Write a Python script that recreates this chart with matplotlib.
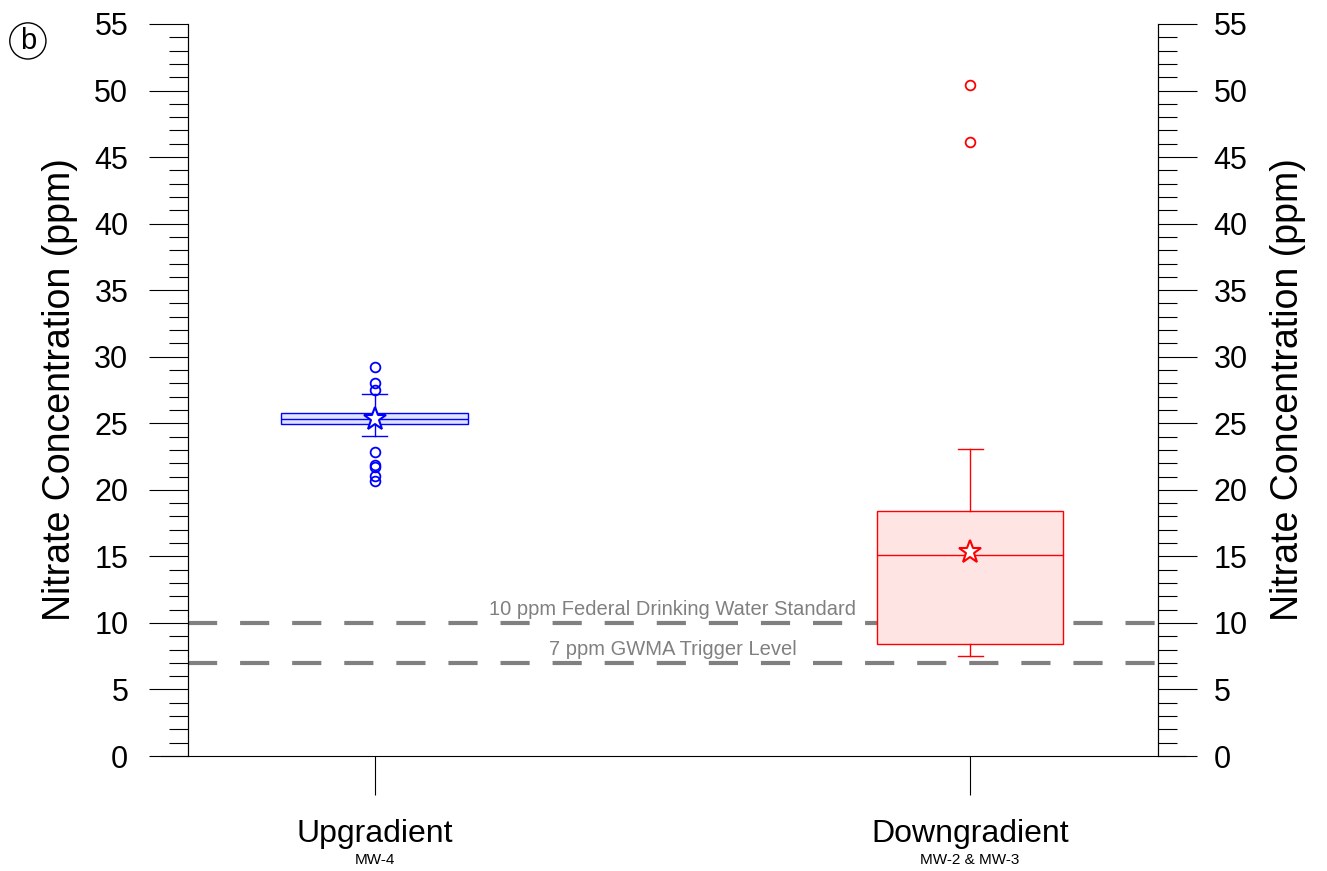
import numpy as np
import matplotlib.pyplot as plt
from matplotlib.ticker import MultipleLocator

plt.rcParams['font.family'] = ['Liberation Sans', 'DejaVu Sans']

# valeurs
categories = ["Upgradient", "Downgradient"]
sous_titres = ["MW-4", "MW-2 & MW-3"]
q1 = [24.95, 8.45]
mediane = [25.35, 15.1]
q3 = [25.8, 18.4]
moustache_bas = [24.05, 7.55]
moustache_haut = [27.2, 23.1]
moyenne = [25.35, 15.3]
aberrants = [[29.25, 28.0, 27.5, 22.85, 21.85, 21.7, 21.05, 20.65],
             [50.4, 46.1]]
couleurs = ["#0000ff", "#ff0000"]
remplissage = ["#dfe3ff", "#ffe4e4"]
seuils = [10, 7]
seuils_txt = ["10 ppm Federal Drinking Water Standard", "7 ppm GWMA Trigger Level"]

fig = plt.figure(figsize=(13.27, 8.71), dpi=100)
ax = fig.add_axes([0.1417, 0.132, 0.731, 0.8405])

pos = [1, 2]
for i in range(2):
    stats = [dict(med=mediane[i], q1=q1[i], q3=q3[i], whislo=moustache_bas[i],
                  whishi=moustache_haut[i], mean=moyenne[i], fliers=aberrants[i])]
    c = couleurs[i]
    ax.bxp(stats, positions=[pos[i]], widths=0.314, capwidths=0.042,
           patch_artist=True, showmeans=True,
           boxprops=dict(facecolor=remplissage[i], edgecolor=c, linewidth=1),
           medianprops=dict(color=c, linewidth=1),
           whiskerprops=dict(color=c, linewidth=1),
           capprops=dict(color=c, linewidth=1),
           meanprops=dict(marker='*', markersize=17, markerfacecolor='white',
                          markeredgecolor=c, markeredgewidth=1.5),
           flierprops=dict(marker='o', markersize=7, markerfacecolor='none',
                           markeredgecolor=c, markeredgewidth=1.3))

for s, t in zip(seuils, seuils_txt):
    ax.axhline(s, color='#808080', linewidth=3, dashes=(7, 5.5), zorder=1)
    ax.text(1.5, s + 0.3, t, color='#808080', fontsize=14.5, ha='center', va='bottom')

ax.set_xlim(0.686, 2.316)
ax.set_ylim(0, 55)
ax.set_xticks(pos)
ax.set_xticklabels([])
for p, c, st in zip(pos, categories, sous_titres):
    ax.annotate(c, xy=(p, 0), xycoords=('data', 'axes fraction'), xytext=(0, -45),
                textcoords='offset points', ha='center', va='top', fontsize=23)
    ax.annotate(st, xy=(p, 0), xycoords=('data', 'axes fraction'), xytext=(0, -70),
                textcoords='offset points', ha='center', va='top', fontsize=11)

ax.spines['top'].set_visible(False)
ax.spines['bottom'].set_visible(False)
ax.plot([-0.028, 1.028], [0, 0], transform=ax.transAxes, color='black',
        linewidth=0.8, clip_on=False)
ax.tick_params(axis='x', direction='out', length=28, width=0.8)

ax2 = ax.twinx()
ax2.set_ylim(0, 55)
ax2.spines['top'].set_visible(False)
ax2.spines['bottom'].set_visible(False)
for a in (ax, ax2):
    a.yaxis.set_major_locator(MultipleLocator(5))
    a.yaxis.set_minor_locator(MultipleLocator(1))
    a.tick_params(axis='y', which='major', direction='out', length=28, width=0.8,
                  labelsize=22)
    a.tick_params(axis='y', which='minor', direction='out', length=14, width=0.8)
    a.set_ylabel("Nitrate Concentration (ppm)", fontsize=27)
ax.tick_params(axis='y', which='major', pad=15)
ax2.tick_params(axis='y', which='major', pad=12)
ax.yaxis.labelpad = 12
ax2.yaxis.labelpad = 16

fig.text(0.021, 0.953, "b", fontsize=21, ha='center', va='center',
         bbox=dict(boxstyle='circle,pad=0.14', facecolor='white', edgecolor='black'))

fig.savefig("out.png", dpi=100)
